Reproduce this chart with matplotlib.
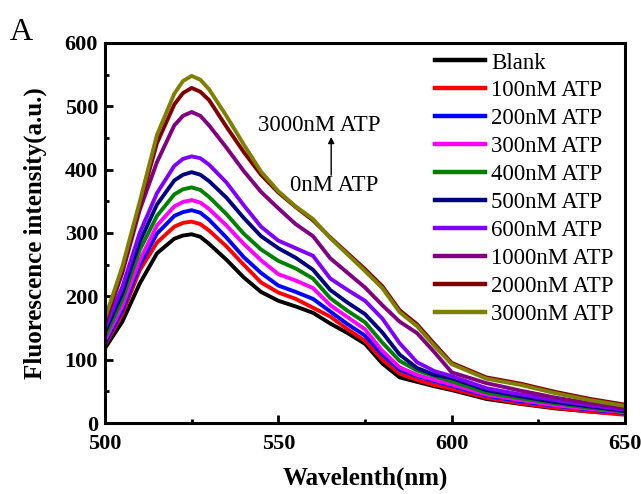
import numpy as np
import matplotlib
matplotlib.use('Agg')
import matplotlib.pyplot as plt
from matplotlib.ticker import MultipleLocator

wavelength = [500, 505, 510, 515, 520, 522.5, 525, 527.5, 530, 535, 540, 545, 550,
              555, 560, 565, 570, 575, 580, 585, 590, 595, 600, 610, 620, 630, 640, 650]

blank = [118, 160, 220, 268, 291, 296, 298, 294, 283, 258, 230, 207, 193,
         184, 174, 157, 142, 125, 94, 72, 65, 58, 52, 38, 30, 23, 18, 14]
atp100 = [123, 172, 241, 285, 310, 316, 318, 314, 304, 279, 250, 222, 206,
          196, 182, 168, 148, 130, 100, 78, 68, 60, 54, 40, 31, 24, 18, 13]
atp200 = [126, 178, 249, 299, 327, 333, 336, 332, 321, 293, 262, 237, 217,
          207, 196, 176, 156, 138, 108, 84, 74, 66, 59, 43, 34, 27, 21, 16]
atp300 = [131, 185, 257, 312, 342, 349, 352, 348, 338, 312, 283, 257, 235,
          225, 213, 186, 167, 148, 114, 88, 76, 68, 61, 45, 36, 28, 22, 17]
atp400 = [136, 195, 273, 327, 361, 369, 372, 368, 357, 330, 299, 274, 256,
          244, 228, 197, 177, 159, 127, 98, 83, 74, 66, 48, 39, 31, 24, 18]
atp500 = [144, 205, 286, 345, 383, 392, 396, 392, 382, 356, 324, 295, 276,
          261, 242, 210, 190, 172, 143, 108, 87, 76, 71, 52, 42, 33, 26, 19]
atp600 = [150, 215, 300, 363, 406, 417, 421, 418, 408, 380, 344, 310, 288,
          276, 264, 228, 210, 193, 165, 126, 96, 82, 74, 55, 45, 36, 28, 21]
atp1000 = [158, 237, 336, 412, 470, 485, 491, 485, 470, 435, 398, 365, 339,
           314, 295, 260, 237, 214, 186, 160, 142, 112, 80, 63, 51, 40, 31, 23]
atp2000 = [160, 242, 344, 442, 503, 521, 529, 523, 510, 468, 428, 392, 364,
           341, 320, 293, 268, 243, 216, 178, 156, 125, 95, 72, 62, 49, 38, 29]
atp3000 = [165, 247, 349, 455, 520, 540, 548, 542, 527, 485, 440, 397, 366,
           342, 322, 292, 266, 240, 213, 175, 153, 122, 93, 70, 60, 47, 36, 27]

labels = ['Blank', '100nM ATP', '200nM ATP', '300nM ATP', '400nM ATP',
          '500nM ATP', '600nM ATP', '1000nM ATP', '2000nM ATP', '3000nM ATP']
colors = ['black', '#ff0000', '#0000ff', '#ff00ff', '#008000',
          '#000080', '#8000ff', '#800080', '#800000', '#808000']
series = [blank, atp100, atp200, atp300, atp400, atp500, atp600,
          atp1000, atp2000, atp3000]

plt.rcParams['font.family'] = 'Liberation Serif'

fig = plt.figure(figsize=(6.41, 4.94), dpi=100)
ax = fig.add_axes([0.1638, 0.1437, 0.8112, 0.7693])

for y, c, lab in zip(series, colors, labels):
    ax.plot(wavelength, y, color=c, lw=2.8, label=lab, solid_joinstyle='round')

ax.set_xlim(500, 650)
ax.set_ylim(0, 600)
ax.xaxis.set_major_locator(MultipleLocator(50))
ax.xaxis.set_minor_locator(MultipleLocator(25))
ax.yaxis.set_major_locator(MultipleLocator(100))
ax.yaxis.set_minor_locator(MultipleLocator(50))
ax.tick_params(which='both', direction='in', width=2, top=False, right=False)
ax.tick_params(which='major', length=6, labelsize=16, pad=5)
ax.tick_params(axis='x', which='major', pad=8)
ax.tick_params(which='minor', length=3)
for lbl in ax.get_xticklabels() + ax.get_yticklabels():
    lbl.set_fontweight('bold')
for s in ax.spines.values():
    s.set_linewidth(2.2)

ax.set_xlabel('Wavelenth(nm)', fontsize=18, fontweight='bold', labelpad=9)
ax.set_ylabel('Fluorescence intensity(a.u.)', fontsize=18, fontweight='bold', labelpad=13)

leg = ax.legend(loc='upper left', bbox_to_anchor=(0.635, 0.975), frameon=False,
                fontsize=16.5, handlelength=2.18, handletextpad=0.26,
                labelspacing=0.3, borderpad=0, borderaxespad=0)
for h in leg.get_lines():
    h.set_linewidth(3.2)

ax.text(0.294, 0.784, '3000nM ATP', transform=ax.transAxes, fontsize=16.5,
        ha='left', va='center')
ax.text(0.356, 0.624, '0nM ATP', transform=ax.transAxes, fontsize=16.5,
        ha='left', va='center')
ax.annotate('', xy=(0.435, 0.76), xytext=(0.435, 0.645), xycoords='axes fraction',
            arrowprops=dict(arrowstyle='-|>', color='black', lw=1,
                            mutation_scale=9))

fig.text(0.015, 0.935, 'A', fontsize=23, ha='left', va='center')

fig.savefig('out.png', dpi=100)
